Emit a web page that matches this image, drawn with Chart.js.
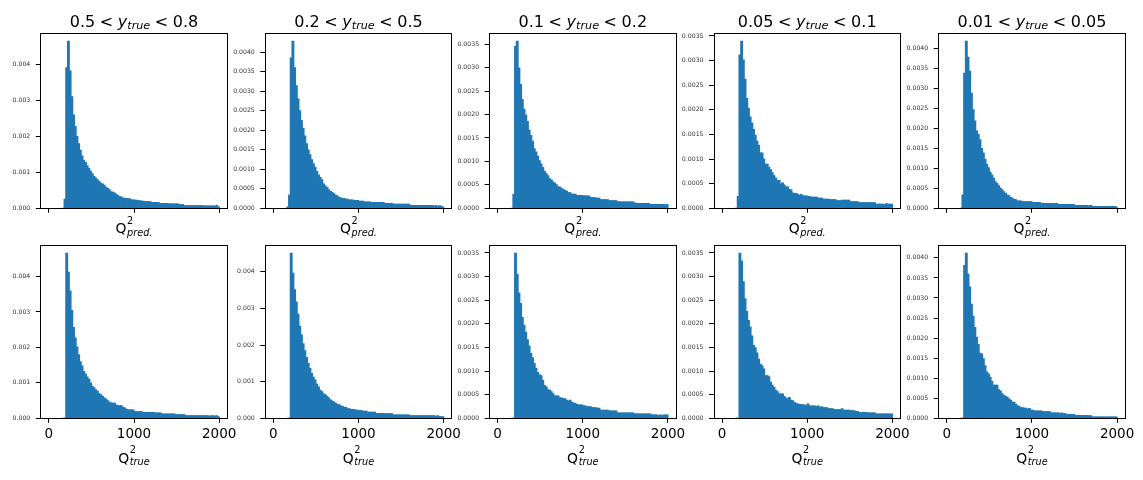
<!DOCTYPE html>
<html>
<head>
<meta charset="utf-8">
<script src="https://cdn.jsdelivr.net/npm/chart.js@4.4.1/dist/chart.umd.min.js"></script>
<style>
  body { margin: 0; background: #fff; width: 1143px; height: 480px; position: relative; overflow: hidden; }
  canvas { position: absolute; }
</style>
</head>
<body>
<script>
// histogram bins: 20 wide, first stored bin starts at 160 (last one 1980-2000)
const binStart = 160;
const binWidth = 20;
const UNIT = 1e-4;               // series values below are density x 1e-4
const xTicks = [0, 1000, 2000];
const yRanges = [['0.5', '0.8'], ['0.2', '0.5'], ['0.1', '0.2'], ['0.05', '0.1'], ['0.01', '0.05']];
const xLabels = ['pred.', 'true'];

const pred58 = [
  0, 2.5, 39, 46.4, 38.1, 31, 25.9, 22.7, 19.9, 17.9,
  16.1, 14.5, 13.3, 12.7, 11.8, 11.0, 10.3, 9.6, 8.8, 8.4,
  7.9, 7.4, 6.9, 6.7, 6.4, 5.8, 5.5, 5.1, 4.6, 4.4,
  4.2, 3.9, 3.5, 3.2, 3.1, 2.8, 2.8, 2.6, 2.6, 2.6,
  2.3, 2.3, 2.2, 2.2, 2.1, 2.1, 1.9, 1.9, 1.8, 1.8,
  1.8, 1.8, 1.6, 1.6, 1.6, 1.6, 1.5, 1.3, 1.3, 1.3,
  1.3, 1.3, 1.2, 1.2, 1.2, 1.2, 1.2, 1.2, 1.1, 0.9,
  1.0, 0.7, 0.7, 0.7, 0.65, 0.65, 0.65, 0.65, 0.65, 0.65,
  0.65, 0.65, 0.65, 0.6, 0.6, 0.6, 0.6, 0.6, 0.6, 0.55,
  0.75, 0.4
];
const pred25 = [
  0.3, 3.3, 38.5, 42.8, 36, 31.4, 28, 25, 22.5, 20.5,
  18.5, 16.5, 14.9, 13.7, 12.4, 11.4, 10.5, 9.4, 8.5, 7.9,
  7.3, 6.2, 5.7, 5.3, 4.7, 4.3, 4.0, 3.7, 3.3, 3.1,
  2.8, 2.6, 2.5, 2.5, 2.3, 2.3, 2.1, 2.1, 2.1, 2.0,
  2.0, 2.0, 1.8, 1.8, 1.8, 1.6, 1.6, 1.6, 1.6, 1.45,
  1.45, 1.45, 1.45, 1.45, 1.45, 1.45, 1.45, 1.2, 1.2, 1.2,
  1.2, 1.2, 1.0, 1.0, 1.0, 1.0, 1.0, 1.0, 1.0, 1.0,
  1.0, 1.0, 0.7, 0.7, 0.7, 0.7, 0.7, 0.7, 0.7, 0.7,
  0.7, 0.7, 0.7, 0.7, 0.7, 0.7, 0.4, 0.7, 0.4, 0.6,
  0.5, 0.3
];
const pred12 = [
  0, 2.9, 34.5, 35.6, 29.9, 26.4, 23.2, 21.1, 19.9, 18.5,
  16.6, 15.5, 14.3, 12.7, 12.0, 11.1, 10.1, 9.4, 8.7, 7.9,
  7.4, 6.9, 6.3, 6.0, 5.6, 5.3, 5.0, 4.5, 4.5, 4.2,
  4.0, 3.8, 3.6, 3.3, 3.3, 3.0, 3.0, 3.0, 2.7, 2.7,
  2.7, 2.7, 2.6, 2.6, 2.6, 2.6, 2.3, 2.3, 2.3, 2.1,
  2.1, 2.1, 1.8, 1.8, 1.8, 1.8, 1.8, 1.6, 1.6, 1.6,
  1.6, 1.6, 1.3, 1.4, 1.3, 1.3, 1.3, 1.3, 1.3, 1.3,
  1.3, 1.3, 1.1, 1.0, 1.0, 1.0, 1.0, 1.0, 1.0, 1.0,
  1.0, 0.8, 0.8, 0.8, 0.8, 0.8, 0.8, 0.8, 0.8, 0.8,
  0.6, 0.8
];
const pred051 = [
  0, 2.4, 31.1, 33.9, 30.1, 26.2, 22.3, 20.3, 18.5, 17.3,
  16.0, 14.8, 13.6, 12.8, 11.2, 11.2, 10.0, 8.9, 8.9, 8.3,
  7.8, 7.2, 6.6, 6.1, 5.6, 5.6, 4.9, 5.1, 4.7, 4.3,
  4.3, 3.8, 3.7, 3.1, 3.0, 3.0, 2.8, 2.6, 2.8, 2.5,
  2.5, 2.5, 2.4, 2.4, 2.2, 2.2, 2.2, 2.2, 2.0, 2.0,
  2.0, 1.8, 1.8, 1.8, 1.8, 1.7, 1.7, 1.7, 1.7, 1.5,
  1.5, 1.5, 1.6, 1.6, 1.6, 1.6, 1.6, 1.3, 1.3, 1.3,
  1.3, 1.3, 1.1, 1.1, 1.1, 1.1, 1.1, 1.1, 1.1, 1.1,
  1.1, 1.1, 0.8, 0.8, 0.8, 0.8, 0.8, 0.7, 0.9, 0.8,
  0.8, 0.8
];
const pred0105 = [
  0, 3.3, 33.7, 41.7, 37.7, 34.2, 28.7, 24.6, 21.8, 19.3,
  18.4, 17.1, 14.9, 13.8, 12.2, 11.0, 10.1, 9.0, 8.3, 7.5,
  6.6, 6.2, 5.6, 5.0, 4.6, 4.1, 3.7, 3.3, 3.1, 2.7,
  2.5, 2.2, 2.1, 1.8, 1.8, 1.8, 1.6, 1.6, 1.6, 1.6,
  1.6, 1.6, 1.4, 1.4, 1.4, 1.4, 1.4, 1.2, 1.2, 1.2,
  1.2, 1.2, 1.2, 1.2, 1.2, 1.1, 1.2, 0.9, 0.9, 0.9,
  0.9, 0.9, 0.9, 0.9, 0.9, 0.9, 0.9, 0.7, 0.7, 0.7,
  0.7, 0.7, 0.7, 0.7, 0.7, 0.5, 0.7, 0.5, 0.4, 0.4,
  0.4, 0.4, 0.4, 0.4, 0.4, 0.4, 0.4, 0.4, 0.4, 0.4,
  0.4, 0.3
];
const true58 = [
  0, 0, 46.5, 41.2, 35.9, 30.4, 25.6, 22.6, 20.1, 17.9,
  15.9, 14.7, 13.2, 12.5, 11.6, 11.0, 9.9, 9.0, 8.6, 8.0,
  7.6, 6.9, 6.6, 6.2, 5.7, 5.4, 4.9, 4.5, 4.3, 4.2,
  4.2, 3.7, 3.5, 3.5, 3.5, 3.1, 2.9, 2.5, 2.3, 2.3,
  2.3, 2.3, 1.9, 1.8, 1.8, 1.8, 1.8, 1.6, 1.6, 1.6,
  1.6, 1.6, 1.6, 1.6, 1.5, 1.5, 1.5, 1.5, 1.2, 1.2,
  1.2, 1.2, 1.2, 1.2, 1.2, 1.2, 1.0, 1.0, 1.0, 1.0,
  1.0, 1.0, 0.7, 0.7, 0.7, 0.7, 0.7, 0.7, 0.7, 0.7,
  0.7, 0.7, 0.7, 0.7, 0.7, 0.7, 0.5, 0.7, 0.7, 0.5,
  0.7, 0.4
];
const true25 = [
  0, 0, 45.0, 39.6, 35.1, 31.7, 28.4, 25.1, 22.7, 20.3,
  18.4, 16.6, 14.9, 13.6, 12.2, 11.2, 10.4, 9.3, 8.5, 7.6,
  7.2, 6.6, 6.4, 5.9, 5.5, 5.0, 4.7, 4.4, 4.1, 3.8,
  3.7, 3.4, 3.2, 3.0, 2.9, 2.6, 2.6, 2.4, 2.4, 2.4,
  2.2, 2.2, 2.1, 2.1, 1.9, 1.9, 1.9, 1.6, 1.6, 1.6,
  1.6, 1.6, 1.3, 1.3, 1.3, 1.3, 1.3, 1.2, 1.2, 1.2,
  1.2, 1.2, 0.9, 0.9, 0.9, 0.9, 0.9, 0.9, 0.9, 0.9,
  0.9, 0.9, 0.7, 0.7, 0.7, 0.7, 0.7, 0.7, 0.7, 0.7,
  0.7, 0.7, 0.7, 0.7, 0.7, 0.7, 0.7, 0.4, 0.7, 0.4,
  0.4, 0.4
];
const true12 = [
  0, 0, 34.9, 30.5, 26.5, 24.3, 21.3, 19.7, 18.2, 16.6,
  15.3, 13.7, 12.8, 11.6, 10.6, 9.7, 9.2, 9.0, 8.0, 6.9,
  6.6, 6.0, 5.9, 5.6, 5.2, 4.7, 4.7, 4.7, 4.3, 4.3,
  4.1, 4.1, 3.8, 3.6, 3.8, 3.4, 3.2, 3.1, 2.9, 2.8,
  2.8, 2.8, 2.6, 2.6, 2.4, 2.4, 2.4, 2.2, 2.2, 2.2,
  2.1, 2.1, 1.7, 1.7, 1.7, 1.7, 1.7, 1.5, 1.5, 1.5,
  1.5, 1.5, 1.1, 1.1, 1.1, 1.1, 1.1, 1.1, 1.1, 1.1,
  1.1, 1.1, 0.9, 0.9, 0.9, 0.9, 0.9, 0.9, 0.9, 0.9,
  0.9, 0.9, 0.7, 0.7, 0.7, 0.7, 0.5, 0.7, 0.5, 0.7,
  0.7, 0.7
];
const true051 = [
  0, 0, 34.9, 33.3, 28.9, 25.3, 22.6, 20.7, 19.3, 17.4,
  15.4, 14.9, 13.8, 12.5, 11.4, 11.1, 10.4, 9.0, 9.0, 8.8,
  7.6, 7.0, 6.5, 5.9, 5.6, 5.1, 5.1, 5.1, 4.6, 4.3,
  4.0, 4.4, 3.8, 3.7, 3.3, 3.1, 3.0, 2.9, 2.9, 2.8,
  2.8, 2.6, 3.0, 2.6, 2.6, 2.6, 2.6, 2.4, 2.6, 2.2,
  2.4, 2.2, 2.2, 2.2, 2.0, 2.0, 2.0, 1.9, 1.8, 1.8,
  1.8, 1.8, 2.0, 1.7, 1.7, 1.7, 1.7, 1.6, 1.6, 1.6,
  1.4, 1.4, 1.2, 1.2, 1.2, 1.2, 1.2, 1.1, 1.1, 1.1,
  1.1, 1.1, 0.9, 0.9, 0.9, 0.9, 0.9, 0.9, 0.9, 0.9,
  0.9, 0.9
];
const true0105 = [
  0, 0, 38.1, 41.1, 35.9, 32.7, 28.4, 25.4, 22.6, 20.2,
  18.4, 16.2, 16.0, 14.8, 13.1, 11.5, 11.0, 10.2, 9.2, 8.2,
  8.2, 8.2, 7.1, 6.8, 6.1, 5.7, 5.5, 5.2, 4.8, 4.5,
  4.0, 4.0, 3.5, 3.1, 2.9, 2.6, 2.6, 2.5, 2.5, 2.2,
  2.4, 2.0, 2.0, 1.8, 1.8, 1.8, 1.8, 1.8, 1.6, 1.6,
  1.6, 1.6, 1.6, 1.3, 1.3, 1.3, 1.3, 1.3, 1.1, 1.3,
  1.1, 1.1, 0.9, 0.9, 0.9, 0.9, 0.9, 0.7, 0.7, 0.7,
  0.7, 0.7, 0.7, 0.7, 0.6, 0.6, 0.6, 0.3, 0.3, 0.3,
  0.3, 0.3, 0.3, 0.3, 0.3, 0.3, 0.3, 0.3, 0.3, 0.3,
  0.3, 0.3
];

const predSeries = [pred58, pred25, pred12, pred051, pred0105];
const trueSeries = [true58, true25, true12, true051, true0105];
// y tick step and decimals, per column, for [pred row, true row]
const yStep = [[0.001, 0.001], [0.0005, 0.001], [0.0005, 0.0005], [0.0005, 0.0005], [0.0005, 0.0005]];
const yDec = [[3, 3], [4, 3], [4, 4], [4, 4], [4, 4]];

// layout in page pixels
const PANEL_LEFT = [40.3, 264.8, 489.1, 713.5, 938.2];
const PANEL_W = 187.4;
const ROWS = [
  { canvasTop: 0, canvasH: 245, plotTop: 33, plotBottom: 208.3, labelGap: 25 },
  { canvasTop: 236, canvasH: 244, plotTop: 243.7, plotBottom: 418.3, labelGap: 44.4 }
];
const BLUE = '#1f77b4';
const FONT = '"DejaVu Sans", sans-serif';

function font(px, italic) {
  return (italic ? 'italic ' : '') + px + 'px ' + FONT;
}

function drawTitle(ctx, lo, hi, cx, base) {
  const gap = 4.6;
  const runs = [
    { t: lo, px: 16, it: false, dy: 0, after: gap },
    { t: '<', px: 16, it: false, dy: 0, after: gap },
    { t: 'y', px: 16, it: true, dy: 0, after: 0 },
    { t: 'true', px: 11.2, it: true, dy: 2.5, after: gap },
    { t: '<', px: 16, it: false, dy: 0, after: gap },
    { t: hi, px: 16, it: false, dy: 0, after: 0 }
  ];
  let total = 0;
  runs.forEach(r => { ctx.font = font(r.px, r.it); r.w = ctx.measureText(r.t).width; total += r.w + r.after; });
  let x = cx - total / 2;
  ctx.fillStyle = '#000';
  ctx.textBaseline = 'alphabetic';
  ctx.textAlign = 'left';
  runs.forEach(r => { ctx.font = font(r.px, r.it); ctx.fillText(r.t, x, base + r.dy); x += r.w + r.after; });
}

function drawQLabel(ctx, sub, cx, base) {
  ctx.fillStyle = '#000';
  ctx.textBaseline = 'alphabetic';
  ctx.textAlign = 'left';
  ctx.font = font(13.9, false);
  const wq = ctx.measureText('Q').width;
  ctx.font = font(9.7, false);
  const w2 = ctx.measureText('2').width;
  ctx.font = font(9.7, true);
  const ws = ctx.measureText(sub).width;
  const total = wq + 0.6 + Math.max(w2, ws);
  let x = cx - total / 2;
  ctx.font = font(13.9, false);
  ctx.fillText('Q', x, base);
  x += wq + 0.6;
  ctx.font = font(9.7, false);
  ctx.fillText('2', x, base - 9.8);
  ctx.font = font(9.7, true);
  ctx.fillText(sub, x, base + 2.4);
}

const panelText = {
  id: 'panelText',
  afterDraw(chart, args, opts) {
    const { ctx, chartArea: a } = chart;
    ctx.save();
    ctx.strokeStyle = '#000';
    ctx.lineWidth = 1;
    const l = Math.round(a.left) + 0.5, r = Math.round(a.right) - 0.5;
    const t = Math.round(a.top) + 0.5, b = Math.round(a.bottom) + 0.5;
    ctx.strokeRect(l, t, r - l, b - t);
    const cx = (a.left + a.right) / 2;
    if (opts.range) drawTitle(ctx, opts.range[0], opts.range[1], cx, a.top - 6.3);
    drawQLabel(ctx, opts.sub, cx, a.bottom + opts.labelGap);
    ctx.restore();
  }
};

function makePanel(row, col) {
  const R = ROWS[row];
  const series = row === 0 ? predSeries[col] : trueSeries[col];
  const step = yStep[col][row];
  const dec = yDec[col][row];
  const peak = Math.max(...series) * UNIT;
  const yMax = peak * 1.05;
  const yTickVals = [];
  for (let v = 0; v <= yMax + 1e-12; v += step) yTickVals.push(v);

  const pl = PANEL_LEFT[col];
  const canvasLeft = Math.floor(pl) - 48;
  const yw = pl - canvasLeft;
  const canvasW = Math.ceil(yw + PANEL_W + 24);
  const padRight = canvasW - yw - PANEL_W;
  const xh = R.canvasTop + R.canvasH - R.plotBottom;

  const cv = document.createElement('canvas');
  cv.width = canvasW;
  cv.height = R.canvasH;
  cv.style.left = canvasLeft + 'px';
  cv.style.top = R.canvasTop + 'px';
  document.body.appendChild(cv);

  new Chart(cv.getContext('2d'), {
    type: 'bar',
    data: {
      datasets: [{
        data: series.map((v, i) => ({ x: binStart + binWidth * i + binWidth / 2, y: v * UNIT })),
        backgroundColor: BLUE,
        borderWidth: 0,
        inflateAmount: 0.6,
        barPercentage: 1,
        categoryPercentage: 1
      }]
    },
    options: {
      responsive: false,
      animation: false,
      devicePixelRatio: 1,
      layout: { padding: { top: R.plotTop - R.canvasTop, left: 0, right: padRight, bottom: 0 } },
      plugins: {
        legend: { display: false },
        tooltip: { enabled: false },
        panelText: { range: row === 0 ? yRanges[col] : null, sub: xLabels[row], labelGap: R.labelGap }
      },
      scales: {
        x: {
          type: 'linear',
          min: -100,
          max: 2100,
          offset: false,
          afterBuildTicks: s => { s.ticks = xTicks.map(v => ({ value: v })); },
          afterFit: s => { s.height = xh; },
          grid: { drawOnChartArea: false, drawTicks: true, tickLength: 4.5, color: '#000', lineWidth: 1, offset: false },
          border: { display: false },
          ticks: {
            autoSkip: false,
            maxRotation: 0,
            padding: 3.5,
            color: '#000',
            font: { family: FONT, size: 13.5 },
            callback: v => row === 0 ? '' : String(v)
          }
        },
        y: {
          min: 0,
          max: yMax,
          afterBuildTicks: s => { s.ticks = yTickVals.map(v => ({ value: v })); },
          afterFit: s => { s.width = yw; },
          grid: { drawOnChartArea: false, drawTicks: true, tickLength: 4.5, color: '#000', lineWidth: 1 },
          border: { display: false },
          ticks: {
            padding: 5.5,
            color: '#333',
            font: { family: FONT, size: 6.2 },
            callback: v => Number(v).toFixed(dec)
          }
        }
      }
    },
    plugins: [panelText]
  });
}

for (let row = 0; row < 2; row++) {
  for (let col = 0; col < 5; col++) makePanel(row, col);
}
</script>
</body>
</html>
